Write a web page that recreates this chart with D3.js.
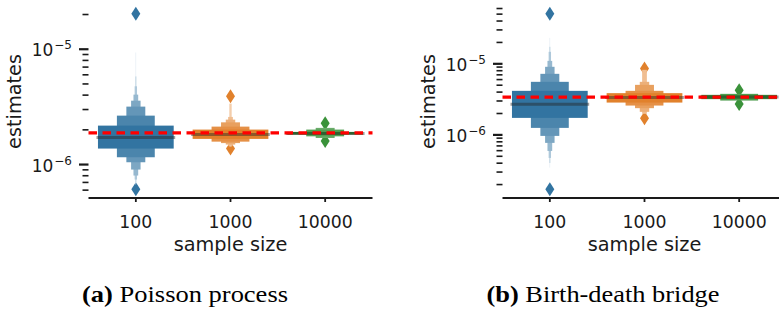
<!DOCTYPE html>
<html><head><meta charset="utf-8">
<script src="https://cdn.jsdelivr.net/npm/d3@7"></script>
<style>body{margin:0;background:#fff} svg{display:block}</style>
</head><body>
<svg id="chart" width="779" height="321"></svg>
<script>
// ---------------- data ----------------
const categories = ["100", "1000", "10000"];
const panelLetters = ["(a)", "(b)"];
const panelNames = ["Poisson process", "Birth-death bridge"];
const xLabel = "sample size";
const yLabel = "estimates";
const seriesColors = ["#3274a1", "#e1812c", "#3a923a"];

// letter-value intervals [low, high], innermost level first
const poissonBoxes = [
  [[1.376e-6, 2.176e-6], [1.157e-6, 2.656e-6], [1.047e-6, 3.18e-6], [9.05e-7, 3.58e-6],
   [8.03e-7, 4.04e-6], [7.41e-7, 4.77e-6], [6.98e-7, 5.81e-6], [6.71e-7, 9.37e-6]],
  [[1.669e-6, 2.01e-6], [1.58e-6, 2.133e-6], [1.535e-6, 2.323e-6], [1.49e-6, 2.453e-6],
   [1.46e-6, 2.588e-6], [1.432e-6, 3.375e-6]],
  [[1.818e-6, 1.919e-6], [1.757e-6, 2.01e-6], [1.70e-6, 2.08e-6]]
];
const poissonMedians = [1.72e-6, 1.82e-6, 1.86e-6];
const poissonOutliers = [[2.03e-5, 6.11e-7], [3.92e-6, 1.38e-6], [2.28e-6, 1.60e-6]];
const poissonTruth = 1.88e-6;

const bridgeBoxes = [
  [[1.735e-6, 4.166e-6], [1.255e-6, 5.58e-6], [9.68e-7, 7.23e-6], [7.72e-7, 9.08e-6],
   [5.95e-7, 1.10e-5], [4.74e-7, 1.476e-5], [4.03e-7, 1.735e-5], [3.46e-7, 2.32e-5]],
  [[2.85e-6, 3.866e-6], [2.587e-6, 4.166e-6], [2.377e-6, 5.06e-6], [2.11e-6, 5.58e-6],
   [1.98e-6, 8.23e-6]],
  [[3.185e-6, 3.66e-6], [3.04e-6, 3.78e-6]]
];
const bridgeMedians = [2.70e-6, 3.35e-6, 3.40e-6];
const bridgeOutliers = [[5.06e-5, 1.72e-7], [8.59e-6, 1.718e-6], [4.26e-6, 2.716e-6]];
const bridgeTruth = 3.40e-6;

// ---------------- layout ----------------
const svg = d3.select("#chart");
svg.append("rect").attr("width", 779).attr("height", 321).attr("fill", "#fff");
const TOP = 5, BOTTOM = 198, AXW = 284;
const panels = [
  {boxes: poissonBoxes, medians: poissonMedians, outliers: poissonOutliers, truth: poissonTruth, left: 88.5, labelX: 21, capX: 185, capW: 206},
  {boxes: bridgeBoxes, medians: bridgeMedians, outliers: bridgeOutliers, truth: bridgeTruth, left: 502.5, labelX: 435, capX: 603, capW: 233}
];
const FONT = "DejaVu Sans, sans-serif";
const TXT = "#1a1a1a";
const NLEV = 8;

panels.forEach((p, pi) => {
  const g = svg.append("g");
  const x = d3.scaleBand().domain(categories).range([p.left, p.left + AXW]).padding(0);
  // log extent with 5% margins
  const vals = [];
  p.boxes.forEach(b => b.forEach(l => vals.push(l[0], l[1])));
  p.outliers.forEach(o => vals.push(...o));
  const lmin = Math.log10(d3.min(vals)), lmax = Math.log10(d3.max(vals));
  const m = (lmax - lmin) * 0.05;
  const y = d3.scaleLog().domain([Math.pow(10, lmin - m), Math.pow(10, lmax + m)]).range([BOTTOM, TOP]);
  const boxW = x.bandwidth() * 0.8;

  // outliers (behind boxes)
  categories.forEach((c, ci) => {
    const cx = x(c) + x.bandwidth() / 2;
    p.outliers[ci].forEach(v => {
      const cy = y(v);
      g.append("path")
        .attr("d", `M${cx},${cy - 7}L${cx + 4.5},${cy}L${cx},${cy + 7}L${cx - 4.5},${cy}Z`)
        .attr("fill", seriesColors[ci]);
    });
  });

  // boxes: draw outermost first
  categories.forEach((c, ci) => {
    const cx = x(c) + x.bandwidth() / 2;
    const base = d3.color(seriesColors[ci]);
    const levels = p.boxes[ci];
    for (let i = levels.length - 1; i >= 0; i--) {
      const w = boxW * Math.pow(0.5, i);
      const col = d3.interpolateRgb(base, "#fff")(0.85 * i / (NLEV - 1));
      const [lo, hi] = levels[i];
      g.append("rect")
        .attr("x", cx - w / 2).attr("width", w)
        .attr("y", y(hi)).attr("height", y(lo) - y(hi))
        .attr("fill", col);
    }
    // median
    const my = y(p.medians[ci]);
    g.append("line")
      .attr("x1", cx - boxW / 2 - 1.5).attr("x2", cx + boxW / 2 + 1.5)
      .attr("y1", my).attr("y2", my)
      .attr("stroke", "#262626").attr("stroke-opacity", 0.45).attr("stroke-width", 3);
  });

  // truth line
  const ty = y(p.truth);
  g.append("line")
    .attr("x1", p.left).attr("x2", p.left + AXW)
    .attr("y1", ty).attr("y2", ty)
    .attr("stroke", "#ff0000").attr("stroke-width", 3.2)
    .attr("stroke-dasharray", "8.5,5.5");

  // y ticks
  const [d0, d1] = y.domain();
  for (let k = Math.floor(Math.log10(d0)); k <= Math.ceil(Math.log10(d1)); k++) {
    for (let mm = 1; mm <= 9; mm++) {
      const v = mm * Math.pow(10, k);
      if (v < d0 || v > d1) continue;
      const yy = y(v);
      const major = mm === 1;
      g.append("line")
        .attr("x1", p.left - (major ? 9.5 : 6)).attr("x2", p.left)
        .attr("y1", yy).attr("y2", yy)
        .attr("stroke", TXT).attr("stroke-width", major ? 2.2 : 1.6);
      if (major) {
        const t = g.append("text")
          .attr("x", p.left - 16.5).attr("y", yy + 7)
          .attr("text-anchor", "end")
          .attr("font-family", FONT).attr("font-size", 17).attr("fill", TXT);
        t.append("tspan").text("10");
        t.append("tspan").attr("dy", -7).attr("dx", 1).attr("font-size", 12).text("\u2212" + (-k));
      }
    }
  }

  // x axis
  g.append("line")
    .attr("x1", p.left).attr("x2", p.left + AXW)
    .attr("y1", BOTTOM).attr("y2", BOTTOM)
    .attr("stroke", TXT).attr("stroke-width", 1.8);
  categories.forEach(c => {
    const cx = x(c) + x.bandwidth() / 2;
    g.append("line").attr("x1", cx).attr("x2", cx).attr("y1", BOTTOM).attr("y2", BOTTOM + 4)
      .attr("stroke", TXT).attr("stroke-width", 1.8);
    g.append("text").attr("x", cx).attr("y", 228).attr("text-anchor", "middle")
      .attr("font-family", FONT).attr("font-size", 17.3).attr("fill", TXT).text(c);
  });
  g.append("text").attr("x", p.left + AXW / 2).attr("y", 251).attr("text-anchor", "middle")
    .attr("font-family", FONT).attr("font-size", 19.3).attr("fill", TXT).text(xLabel);
  g.append("text")
    .attr("transform", `translate(${p.labelX},${(TOP + BOTTOM) / 2}) rotate(-90)`)
    .attr("text-anchor", "middle")
    .attr("font-family", FONT).attr("font-size", 19.3).attr("fill", TXT).text(yLabel);

  // caption
  const cap = svg.append("text").attr("x", p.capX).attr("y", 302).attr("text-anchor", "middle")
    .attr("font-family", "Liberation Serif, serif").attr("font-size", 23).attr("fill", "#000")
    .attr("textLength", p.capW).attr("lengthAdjust", "spacingAndGlyphs");
  cap.append("tspan").attr("font-weight", "bold").text(panelLetters[pi]);
  cap.append("tspan").text(" " + panelNames[pi]);
});
</script>
</body></html>
